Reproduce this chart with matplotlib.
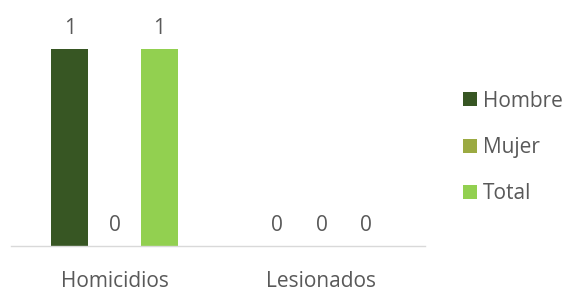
import numpy as np
import matplotlib.pyplot as plt

plt.rcParams['font.family'] = ['Open Sans', 'DejaVu Sans']

categories = ["Homicidios", "Lesionados"]
series = ["Hombre", "Mujer", "Total"]
hombre = [1, 0]
mujer = [0, 0]
total = [1, 0]
colors = ["#375623", "#9BAA42", "#92D050"]

fig = plt.figure(figsize=(5.69, 2.93), dpi=100)
ax = fig.add_axes([11 / 569, 1 - 246 / 293, 414 / 569, 197 / 293])

x = np.arange(len(categories))
width = 0.176
offset = 0.217
text_color = "#595959"
fs = 15

for i, (name, vals, c) in enumerate(zip(series, [hombre, mujer, total], colors)):
    pos = x + (i - 1) * offset
    bars = ax.bar(pos, vals, width, color=c, label=name)
    for xb, v in zip(pos, vals):
        ax.text(xb, v + 0.05, str(v), ha="center", va="bottom",
                fontsize=fs, color=text_color, clip_on=False)

ax.set_xlim(-0.5, 1.5)
ax.set_ylim(0, 1)
ax.set_yticks([])
ax.set_xticks(x)
ax.set_xticklabels(categories, fontsize=fs, color=text_color)
ax.tick_params(axis="x", length=0, pad=18)
for s in ["top", "right", "left"]:
    ax.spines[s].set_visible(False)
ax.spines["bottom"].set_color("#d9d9d9")
ax.spines["bottom"].set_linewidth(1)

leg = ax.legend(loc="center left", bbox_to_anchor=(444 / 414, 0.5), frameon=False,
                fontsize=fs, handlelength=0.65, handleheight=0.65, handletextpad=0.3,
                labelspacing=1.22, borderaxespad=0)
for t in leg.get_texts():
    t.set_color(text_color)

fig.savefig("out.png", dpi=100)
